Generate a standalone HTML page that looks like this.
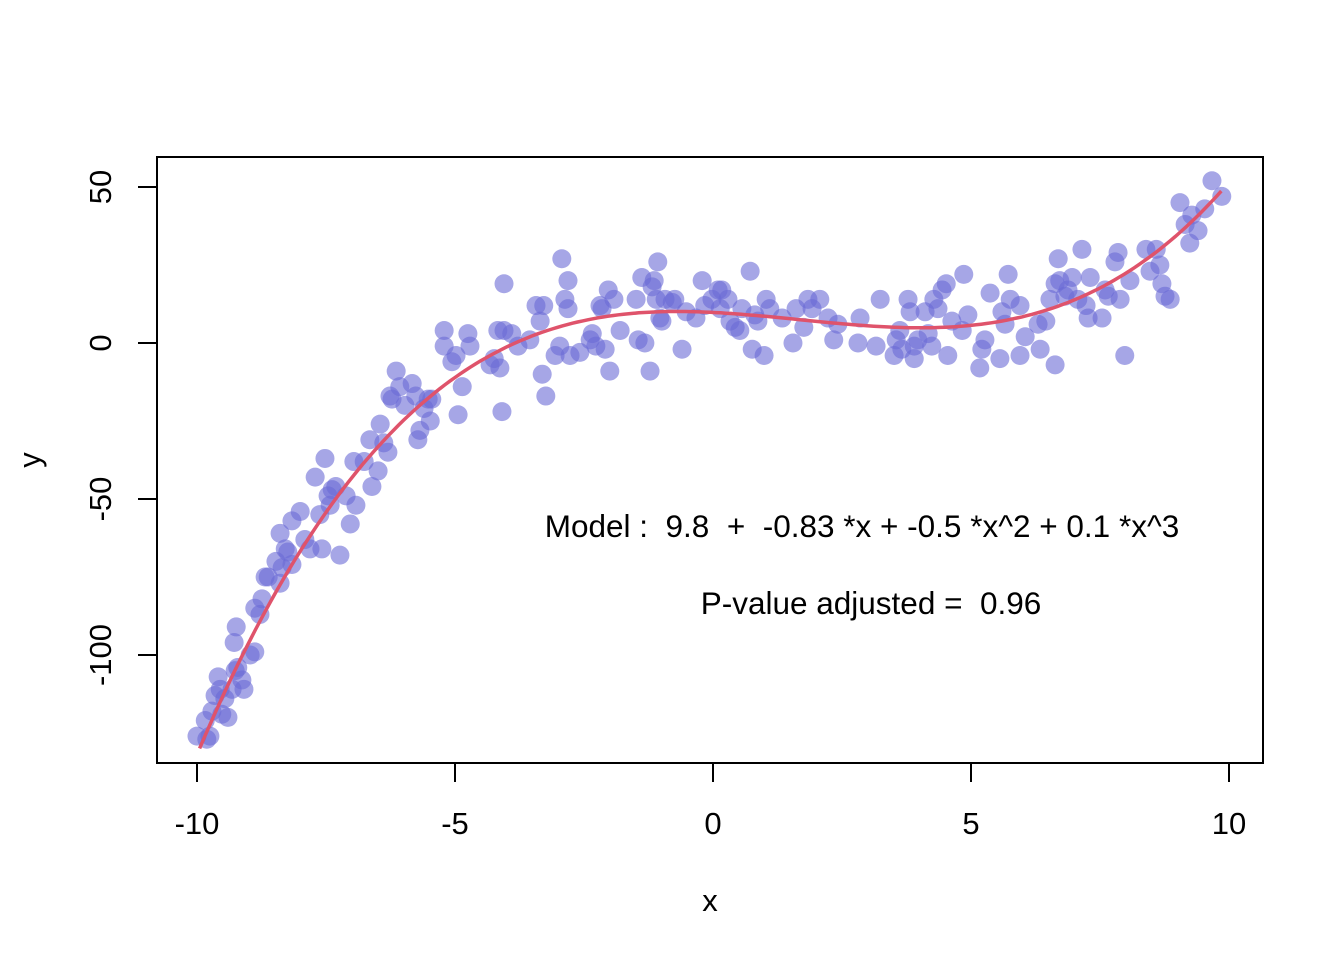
<!DOCTYPE html>
<html><head><meta charset="utf-8"><style>body{margin:0;background:#fff}svg{display:block}text{font-family:"Liberation Sans",Arial,sans-serif;fill:#000}</style></head>
<body>
<svg id="chart" width="1344" height="960" xmlns="http://www.w3.org/2000/svg">
<rect x="157" y="157" width="1106" height="606" fill="none" stroke="#000" stroke-width="2"/>
<g id="pts"></g>
<path id="fit" fill="none" stroke="#DF536B" stroke-width="3.5"/>
<g id="axes"></g>
<text x="710" y="911" font-size="31" text-anchor="middle">x</text>
<text transform="translate(40,460) rotate(-90)" font-size="31" text-anchor="middle">y</text>
<text x="862" y="537" font-size="31.5" text-anchor="middle" xml:space="preserve">Model :  9.8  +  -0.83 *x + -0.5 *x^2 + 0.1 *x^3</text>
<text x="871" y="614" font-size="31.5" text-anchor="middle" xml:space="preserve">P-value adjusted =  0.96</text>
</svg>
<script>
const xs=[-10.0,-9.81,-9.75,-9.84,-9.71,-9.65,-9.55,-9.59,-9.52,-9.40,-9.46,-9.32,-9.26,-9.21,-9.13,-9.09,-9.28,-9.24,-8.97,-8.88,-8.88,-8.78,-8.74,-8.68,-8.62,-8.47,-8.39,-8.35,-8.29,-8.24,-8.16,-8.39,-8.16,-8.00,-7.91,-7.81,-7.71,-7.62,-7.58,-7.52,-7.46,-7.42,-7.38,-7.31,-7.23,-7.11,-7.03,-6.96,-6.92,-6.76,-6.65,-6.61,-6.49,-6.45,-6.38,-6.30,-6.26,-6.22,-6.14,-6.07,-5.97,-5.83,-5.76,-5.72,-5.68,-5.60,-5.52,-5.48,-5.45,-5.21,-5.21,-5.06,-4.98,-4.94,-4.86,-4.75,-4.71,-4.32,-4.24,-4.17,-4.13,-4.09,-4.05,-4.05,-3.90,-3.78,-3.55,-3.43,-3.35,-3.31,-3.28,-3.24,-3.06,-2.97,-2.93,-2.87,-2.81,-2.81,-2.77,-2.58,-2.38,-2.34,-2.27,-2.19,-2.15,-2.09,-2.03,-2.00,-1.92,-1.80,-1.49,-1.45,-1.38,-1.32,-1.22,-1.18,-1.14,-1.10,-1.07,-1.03,-0.99,-0.93,-0.79,-0.74,-0.60,-0.52,-0.33,-0.21,-0.16,-0.02,0.10,0.14,0.17,0.29,0.33,0.43,0.52,0.56,0.72,0.76,0.81,0.87,0.99,1.03,1.10,1.34,1.55,1.61,1.76,1.84,1.92,2.07,2.23,2.34,2.42,2.81,2.85,3.16,3.24,3.51,3.55,3.62,3.66,3.78,3.82,3.90,3.90,3.97,4.11,4.17,4.24,4.28,4.36,4.44,4.52,4.55,4.63,4.83,4.86,4.94,5.17,5.21,5.27,5.37,5.56,5.60,5.66,5.72,5.76,5.95,5.95,6.05,6.30,6.34,6.45,6.53,6.63,6.63,6.69,6.72,6.82,6.88,6.96,7.07,7.15,7.23,7.27,7.31,7.54,7.60,7.66,7.79,7.85,7.89,7.98,8.08,8.39,8.47,8.59,8.66,8.70,8.76,8.86,9.05,9.15,9.24,9.28,9.40,9.53,9.67,9.86];
const ys=[-126,-127,-126,-121,-118,-113,-111,-107,-119,-120,-114,-111,-105,-104,-108,-111,-96,-91,-100,-99,-85,-87,-82,-75,-75,-70,-77,-72,-66,-67,-71,-61,-57,-54,-63,-66,-43,-55,-66,-37,-49,-52,-47,-46,-68,-49,-58,-38,-52,-38,-31,-46,-41,-26,-32,-35,-17,-18,-9,-14,-20,-13,-17,-31,-28,-21,-18,-25,-18,4,-1,-6,-4,-23,-14,3,-1,-7,-5,4,-8,-22,19,4,3,-1,1,12,7,-10,12,-17,-4,-1,27,14,20,11,-4,-3,1,3,-1,12,11,-2,17,-9,14,4,14,1,21,0,-9,18,20,14,26,8,7,14,13,14,-2,10,8,20,12,14,17,11,17,14,7,5,4,11,23,-2,9,7,-4,14,11,8,0,11,5,14,11,14,8,1,6,0,8,-1,14,-4,1,4,-2,14,10,-1,-5,1,10,3,-1,14,11,17,19,-4,7,4,22,9,-8,-2,1,16,-5,10,6,22,14,12,-4,2,6,-2,7,14,19,-7,27,20,15,17,21,14,30,12,8,21,8,17,15,26,29,14,-4,20,30,23,30,25,19,15,14,45,38,32,41,36,43,52,47];
const coefs=[9.8,-0.83,-0.5,0.1];
const xTicks=[-10,-5,0,5,10];
const yTicks=[-100,-50,0,50];
const fitRange=[-9.95,9.85];
const X=v=>713+v*51.6, Y=v=>343-v*3.12;
const NS='http://www.w3.org/2000/svg';
const pts=document.getElementById('pts');
for(let i=0;i<xs.length;i++){const c=document.createElementNS(NS,'circle');


c.setAttribute('cx',X(xs[i]));c.setAttribute('cy',Y(ys[i]));c.setAttribute('r',9.5);c.setAttribute('fill','rgba(106,106,214,0.6)');pts.appendChild(c);}
let d='';for(let k=0;k<=200;k++){const x=fitRange[0]+(fitRange[1]-fitRange[0])*k/200;const y=coefs[0]+coefs[1]*x+coefs[2]*x*x+coefs[3]*x*x*x;d+=(k?'L':'M')+X(x).toFixed(1)+','+Y(y).toFixed(1);}
document.getElementById('fit').setAttribute('d',d);
const ax=document.getElementById('axes');
function el(t,a,txt){const e=document.createElementNS(NS,t);for(const k in a)e.setAttribute(k,a[k]);if(txt!=null)e.textContent=txt;ax.appendChild(e);return e;}
xTicks.forEach(v=>{const l=el('line',{x1:X(v),x2:X(v),y1:763,y2:782,stroke:'#000','stroke-width':2});


const t=el('text',{x:X(v),y:834,'font-size':31,'text-anchor':'middle'},String(v));

});
yTicks.forEach(v=>{const l=el('line',{x1:138,x2:157,y1:Y(v),y2:Y(v),stroke:'#000','stroke-width':2});


const t=el('text',{transform:`translate(111,${Y(v)}) rotate(-90)`,'font-size':31,'text-anchor':'middle'},String(v));

});
</script>
</body></html>
